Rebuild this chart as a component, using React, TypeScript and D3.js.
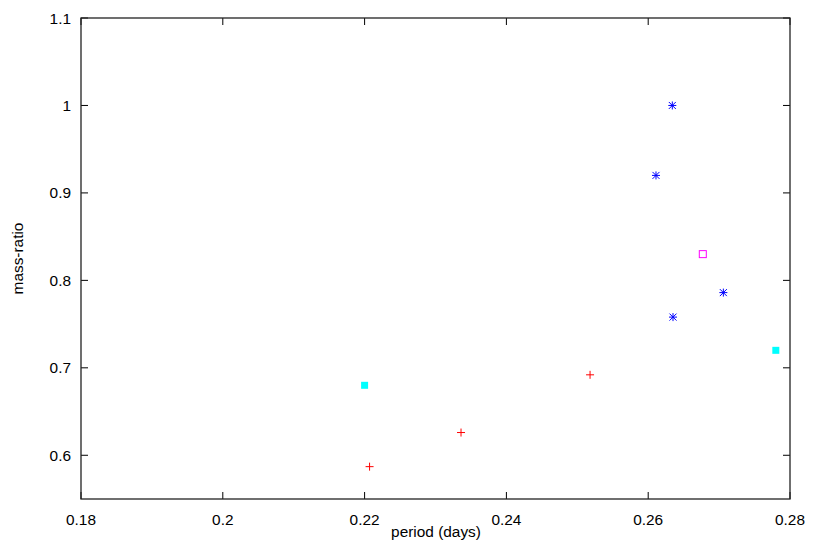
import React from "react";
import * as d3 from "d3";

const xTicks = [0.18, 0.2, 0.22, 0.24, 0.26, 0.28];
const yTicks = [0.6, 0.7, 0.8, 0.9, 1.0, 1.1];
const redPlus = [
  { p: 0.2207, q: 0.587 },
  { p: 0.2336, q: 0.626 },
  { p: 0.2518, q: 0.692 },
];
const cyanSquares = [
  { p: 0.22, q: 0.68 },
  { p: 0.278, q: 0.72 },
];
const magentaSquares = [{ p: 0.2677, q: 0.83 }];
const blueStars = [
  { p: 0.2634, q: 1.0 },
  { p: 0.2611, q: 0.92 },
  { p: 0.2706, q: 0.786 },
  { p: 0.2635, q: 0.758 },
];

const W = 817, H = 545;
const L = 81, R = 790, T = 18, B = 499;

export default function App() {
  const x = d3.scaleLinear().domain([0.18, 0.28]).range([L, R]);
  const y = d3.scaleLinear().domain([0.55, 1.1]).range([B, T]);
  const font = "Liberation Sans, Arial, Helvetica, sans-serif";
  const fs = 15.4;
  const tk = 7;
  return (
    <svg width={W} height={H} style={{ position: "absolute", left: 0, top: 0, background: "#fff" }}>
      <rect x={0} y={0} width={W} height={H} fill="#fff" />
      {xTicks.map((t) => (
        <g key={"x" + t}>
          <line x1={x(t)} x2={x(t)} y1={B} y2={B - tk} stroke="#000" />
          <line x1={x(t)} x2={x(t)} y1={T} y2={T + tk} stroke="#000" />
          <text x={x(t)} y={525} textAnchor="middle" fontFamily={font} fontSize={fs} fill="#000">
            {d3.format("")(t)}
          </text>
        </g>
      ))}
      {yTicks.map((t) => (
        <g key={"y" + t}>
          <line x1={L} x2={L + tk} y1={y(t)} y2={y(t)} stroke="#000" />
          <line x1={R} x2={R - tk} y1={y(t)} y2={y(t)} stroke="#000" />
          <text x={71} y={y(t) + 5.5} textAnchor="end" fontFamily={font} fontSize={fs} fill="#000">
            {d3.format("")(t)}
          </text>
        </g>
      ))}
      <rect x={L} y={T} width={R - L} height={B - T} fill="none" stroke="#222" strokeWidth={1.3} />
      <text x={436} y={537} textAnchor="middle" fontFamily={font} fontSize={fs} fill="#000">
        period (days)
      </text>
      <text
        transform={`translate(23,${(T + B) / 2}) rotate(-90)`}
        textAnchor="middle"
        fontFamily={font}
        fontSize={fs}
        fill="#000"
      >
        mass-ratio
      </text>
      {redPlus.map((d, i) => (
        <g key={"r" + i} stroke="#ff0000" strokeWidth={1}>
          <line x1={x(d.p) - 4} x2={x(d.p) + 4} y1={y(d.q)} y2={y(d.q)} />
          <line x1={x(d.p)} x2={x(d.p)} y1={y(d.q) - 4} y2={y(d.q) + 4} />
        </g>
      ))}
      {cyanSquares.map((d, i) => (
        <rect key={"c" + i} x={x(d.p) - 3.5} y={y(d.q) - 3.5} width={7} height={7} fill="#00ffff" />
      ))}
      {magentaSquares.map((d, i) => (
        <rect key={"m" + i} x={x(d.p) - 3.5} y={y(d.q) - 3.5} width={7} height={7} fill="none" stroke="#ff00ff" strokeWidth={1} />
      ))}
      {blueStars.map((d, i) => (
        <g key={"b" + i} stroke="#0000ff" strokeWidth={1}>
          <line x1={x(d.p) - 4} x2={x(d.p) + 4} y1={y(d.q)} y2={y(d.q)} />
          <line x1={x(d.p)} x2={x(d.p)} y1={y(d.q) - 4} y2={y(d.q) + 4} />
          <line x1={x(d.p) - 3.5} x2={x(d.p) + 3.5} y1={y(d.q) - 3.5} y2={y(d.q) + 3.5} />
          <line x1={x(d.p) - 3.5} x2={x(d.p) + 3.5} y1={y(d.q) + 3.5} y2={y(d.q) - 3.5} />
        </g>
      ))}
    </svg>
  );
}
